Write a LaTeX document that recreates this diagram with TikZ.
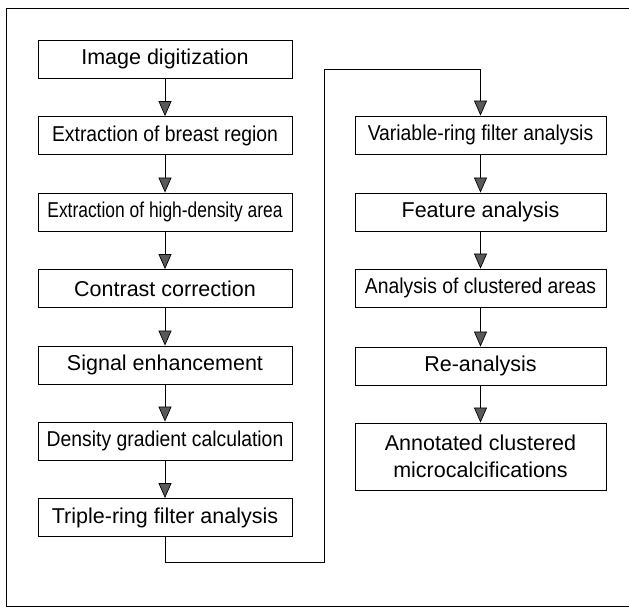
\documentclass[tikz,border=0pt]{standalone}
\usepackage{fontspec}
\setmainfont{Liberation Sans}
\usetikzlibrary{arrows.meta}
\tikzset{
  stepbox/.style={draw=black, line width=0.85pt, fill=white, inner sep=0pt,
    minimum height=38pt, font=\fontsize{21.5}{27}\selectfont, align=center},
  leftbox/.style={stepbox, minimum width=254pt},
  rightbox/.style={stepbox, minimum width=251pt},
  flow/.style={draw=black, line width=0.9pt,
    -{Triangle[length=15pt, width=13pt, fill=black!65, line width=0.7pt]}},
  link/.style={draw=black, line width=0.9pt},
}
\newcommand{\narrow}[2]{\scalebox{#1}[1]{#2}}
\begin{document}
\begin{tikzpicture}[x=1pt, y=-1pt]
  \useasboundingbox (0,0) rectangle (629,608);
  % outer frame (right side runs off the page edge)
  \draw[line width=0.8pt] (629,8) -- (6,8) -- (6,606) -- (629,606);

  % left column
  \node[leftbox] (n1) at (165,59)    {Image digitization};
  \node[leftbox] (n2) at (165,135.5) {\narrow{0.9}{Extraction of breast region}};
  \node[leftbox] (n3) at (165,212)   {\narrow{0.81}{Extraction of high-density area}};
  \node[leftbox] (n4) at (165,288.5) {Contrast correction};
  \node[leftbox] (n5) at (165,365)   {Signal enhancement};
  \node[leftbox] (n6) at (165,441)   {\narrow{0.9}{Density gradient calculation}};
  \node[leftbox] (n7) at (165,517.5) {Triple-ring filter analysis};

  % right column
  \node[rightbox] (m1) at (480.5,135)   {\narrow{0.9}{Variable-ring filter analysis}};
  \node[rightbox] (m2) at (480.5,212)   {Feature analysis};
  \node[rightbox] (m3) at (480.5,288)   {\narrow{0.9}{Analysis of clustered areas}};
  \node[rightbox] (m4) at (480.5,366)   {Re-analysis};
  \node[rightbox, minimum height=67pt] (m5) at (480.5,456.5)
      {Annotated clustered\\microcalcifications};

  % flow arrows
  \draw[flow] (n1) -- (n2);
  \draw[flow] (n2) -- (n3);
  \draw[flow] (n3) -- (n4);
  \draw[flow] (n4) -- (n5);
  \draw[flow] (n5) -- (n6);
  \draw[flow] (n6) -- (n7);

  % link from the left column over to the right column
  \coordinate (c1) at (165,562);
  \coordinate (c2) at (324,562);
  \coordinate (c3) at (324,69);
  \coordinate (c4) at (480.5,69);
  \draw[link] (n7.south) -- (c1) -- (c2) -- (c3) -- (c4);
  \draw[flow] (c4) -- (m1.north);

  \draw[flow] (m1) -- (m2);
  \draw[flow] (m2) -- (m3);
  \draw[flow] (m3) -- (m4);
  \draw[flow] (m4) -- (m5);
\end{tikzpicture}
\end{document}
